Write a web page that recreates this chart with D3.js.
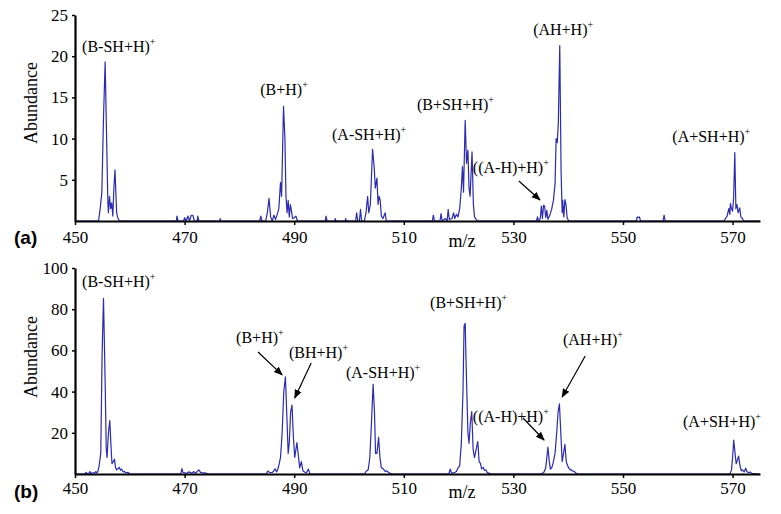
<!DOCTYPE html>
<html><head><meta charset="utf-8">
<script src="https://cdn.jsdelivr.net/npm/d3@7"></script>
<style>
body{margin:0;background:#fff;}
svg{display:block;}
svg text{font-family:"Liberation Serif","Times New Roman",serif;}
svg text.tag{font-family:"Liberation Sans",Arial,sans-serif;font-weight:bold;}
</style></head>
<body><svg id="c" width="781" height="514"></svg>
<script>
// ---------- DATA ----------
const xTicks = [450, 470, 490, 510, 530, 550, 570];
const yTicksA = [5, 10, 15, 20, 25];
const yTicksB = [20, 40, 60, 80, 100];

const mzA = [450.0,454.3,454.6,454.9,455.2,455.5,455.8,456.0,456.1,456.3,456.5,456.7,456.9,457.1,457.3,457.6,457.8,458.1,
468.5,468.6,468.8,469.8,470.0,470.3,470.6,470.9,471.2,471.5,471.8,472.3,472.4,472.6,476.4,476.5,476.6,
483.7,483.9,484.1,484.8,485.1,485.4,485.7,486.0,486.3,486.6,486.9,487.2,487.5,487.7,488.05,488.3,488.5,488.7,488.9,489.1,489.3,489.5,489.7,490.0,490.3,490.6,
495.7,495.8,496.0,497.4,497.5,497.6,499.3,499.4,499.5,501.2,501.4,501.6,501.9,502.1,502.3,502.8,503.1,503.4,503.6,503.9,504.3,504.6,504.8,505.1,505.3,505.5,505.7,505.9,506.2,506.6,506.8,
515.2,515.4,515.6,516.6,516.8,517.0,517.6,517.9,518.1,518.3,518.8,519.1,519.3,519.6,519.9,520.2,520.5,520.7,520.9,521.2,521.45,521.7,521.9,522.1,522.45,522.7,522.9,523.2,523.5,
534.2,534.4,534.6,534.9,535.1,535.3,535.5,535.7,535.9,536.1,536.3,536.7,537.0,537.3,537.6,537.8,538.0,538.2,538.46,538.7,538.9,539.0,539.2,539.4,539.6,539.8,540.1,
552.4,552.6,552.8,553.0,553.2,557.3,557.5,557.7,
568.4,569.0,569.3,569.5,569.6,569.8,570.0,570.2,570.4,570.6,570.8,571.0,571.3,571.5,571.8,572.0,575.0];
const abA = [0,0,1.5,3.5,12.5,19.3,9,2.2,1.0,3.0,1.5,2.2,0.6,4.0,6.2,1.0,0.4,0,
0,0.6,0,0,0.4,0,0.6,0,0.7,0.7,0,0,0.6,0,0,0.3,0,
0,0.6,0,0,1.0,2.75,0.5,0,0.7,0.2,0.8,1.5,4.7,3.0,13.9,10.2,3,1.0,2.5,0.5,2.0,1.2,0.3,0.4,0.6,0,
0,0.6,0,0,0.3,0,0,0.3,0,0,1.0,0,0,1.4,0,0,1.0,3.0,1.0,2.0,8.7,6.5,4.0,5.2,2.0,3.0,2.5,0.6,0.3,1.0,0,
0,0.7,0,0,0.9,0,0.3,0,1.4,0.2,0.3,1.0,0.3,0.8,0.5,1.5,4.0,6.6,3.5,12.2,7.0,8.6,4.0,3.0,8.4,2.0,0.5,0.2,0,
0,0.5,0,0.3,1.8,0.3,1.9,1.8,0.4,1.3,0.2,0.8,1.5,2.5,4.5,10.0,9.5,12,21.3,6,1.0,2.5,0.5,2.6,2.0,0.4,0,
0,0.5,0.4,0.5,0,0,0.7,0,
0,0.6,1.5,0.8,2.1,1.5,1.2,3,8.3,1.5,2.0,1.0,1.6,0.5,0.3,0,0];

const mzB = [450.0,451.8,452.0,452.2,452.6,452.7,452.9,453.3,453.6,453.8,454.0,454.2,454.4,454.7,454.95,455.2,455.5,455.7,455.85,456.1,456.35,456.6,456.75,457.0,457.2,457.4,457.6,457.9,458.1,458.3,458.5,458.8,459.0,459.3,459.7,460.0,
469.3,469.5,469.7,470.0,470.4,470.7,471.0,471.3,471.7,472.0,472.4,472.6,472.9,473.3,473.7,474.0,474.3,
484.9,485.2,485.5,485.9,486.2,486.5,486.8,487.1,487.5,487.8,488.1,488.4,488.7,488.9,489.1,489.35,489.6,489.85,490.1,490.5,490.8,491.0,491.3,491.6,491.9,492.2,492.6,492.8,493.1,
502.8,503.2,503.5,503.8,504.1,504.4,504.65,504.85,505.1,505.4,505.65,505.9,506.3,506.6,506.9,507.2,507.5,507.8,
518.2,518.5,518.7,519.1,519.6,519.9,520.2,520.5,520.8,521.0,521.2,521.45,521.7,521.9,522.15,522.4,522.65,522.9,523.2,523.5,523.75,524.0,524.2,524.5,524.7,525.0,525.2,525.6,525.9,
534.8,535.3,535.6,535.9,536.1,536.3,536.55,536.75,537.0,537.3,537.6,537.9,538.15,538.4,538.65,538.9,539.15,539.4,539.65,539.9,540.2,540.5,540.8,541.1,541.4,541.7,
569.5,569.8,570.0,570.2,570.45,570.65,570.9,571.1,571.35,571.6,571.8,572.1,572.4,572.6,572.9,573.2,573.5,575.0];
const abB = [0,0,0.8,0.2,0.5,1.2,0.3,0.6,0.4,1.2,0.5,1.5,4,10,58.7,85.3,45,12,8,20,25.9,12,5,6,7.2,3,2,2.8,3.2,1.8,2.4,1.0,1.2,0.6,0.8,0,
0,2.6,0.8,0.6,0.3,1.0,0.8,0.4,1.2,0.3,1.5,2.0,0.8,0.5,0.6,0.3,0,
0,1.5,0.8,0.6,1.2,2.5,1.0,3,8,20,40,47.2,25,10,15,30,33.5,18,8,15.2,8,3,6,1.5,1.0,0.5,2.4,0.4,0,
0,1.5,2,8,25,43.5,30,10,10,17.8,8,3,2.4,1.2,1.5,0.8,0.3,0,
0,2.4,0.4,0.5,1.2,3,4,15,40,72,73.1,45,20,15,25,30.3,12,8,12,15.7,6,5,2.5,3.2,1.8,2,0.8,0.3,0,
0,0.3,1.0,3,8,13,6,2.4,3,6,10,20,30,34,20,6,10,14.4,6,4,2.5,2,1.5,1.2,0.5,0,
0,2,8,16.5,10,5,7,8.7,4,1.5,2.0,1.0,2.8,1.2,0.6,1.0,0.3,0];

// annotations: [text, mz, abundance]
const annA = [["(B-SH+H)",451.3,20.5],["(B+H)",483.8,15.3],["(A-SH+H)",496.9,9.8],["(B+SH+H)",512.4,13.5],
  ["((A-H)+H)",522.6,5.8],["(AH+H)",533.6,22.6],["(A+SH+H)",559.0,9.6]];
const arrA = [[531.0,4.85,534.85,2.55]];
const annB = [["(B-SH+H)",451.3,90.8],["(B+H)",479.4,63.6],["(BH+H)",489.05,56.3],["(A-SH+H)",499.45,46.6],
  ["(B+SH+H)",514.8,80.6],["((A-H)+H)",522.6,25.2],["(AH+H)",539.05,62.6],["(A+SH+H)",560.95,22.8]];
const arrB = [[483.4,59.2,487.8,48.1],[493.1,53.9,490.1,36.9],[531.75,27.2,535.6,16.5],[543.1,57.3,538.9,37.4]];

// ---------- DRAW ----------
const svg = d3.select("#c");
const blue = "#2a2ab4";

svg.append("defs").append("marker").attr("id","ah").attr("viewBox","0 0 10 10")
  .attr("refX",9).attr("refY",5).attr("markerWidth",9).attr("markerHeight",9)
  .attr("markerUnits","userSpaceOnUse").attr("orient","auto")
  .append("path").attr("d","M0,1L10,5L0,9Z").attr("fill","#000");

function panel(opt){
  const x = d3.scaleLinear().domain([450,575]).range([75,760]);
  const y = d3.scaleLinear().domain([0,opt.ymax]).range([opt.y0,opt.ytop]);
  const g = svg.append("g");
  const pts = opt.mz.map((m,i)=>[m,opt.ab[i]]);
  g.append("path").datum(pts)
    .attr("d", d3.line().x(d=>x(d[0])).y(d=>y(d[1])))
    .attr("fill","none").attr("stroke",blue).attr("stroke-width",1.2).attr("stroke-linejoin","round");
  const xa = g.append("g").attr("transform",`translate(0,${opt.y0})`)
    .call(d3.axisBottom(x).tickValues(xTicks).tickSize(4).tickSizeOuter(0).tickPadding(opt.xpad));
  xa.attr("font-family",null);
  xa.select(".domain").attr("stroke","#000").attr("stroke-width",2);
  xa.selectAll(".tick line").attr("stroke","#000").attr("stroke-width",1.5);
  xa.selectAll("text").attr("font-size",17).attr("fill","#000");
  const ya = g.append("g").attr("transform","translate(75,0)")
    .call(d3.axisLeft(y).tickValues(opt.yticks).tickSize(3).tickSizeOuter(0).tickPadding(4));
  ya.attr("font-family",null);
  ya.select(".domain").attr("stroke","#000").attr("stroke-width",2.2);
  ya.selectAll(".tick line").attr("stroke","#000").attr("stroke-width",1.5);
  ya.selectAll("text").attr("font-size",17).attr("fill","#000");
  g.append("text").attr("transform",`translate(37,${opt.ymid}) rotate(-90)`)
    .attr("text-anchor","middle").attr("font-size",18).text("Abundance");
  g.append("text").attr("x",462).attr("y",opt.mzy).attr("text-anchor","middle")
    .attr("font-size",18).text("m/z");
  g.append("text").attr("class","tag").attr("x",14).attr("y",opt.tagy)
    .attr("font-size",19).text(opt.tag);
  opt.ann.forEach(a=>{
    const t = g.append("text").attr("x",x(a[1])).attr("y",y(a[2]))
      .attr("font-size",16).attr("fill","#000");
    t.append("tspan").text(a[0]);
    t.append("tspan").attr("dy",-7).attr("font-size",10).text("+");
  });
  opt.arr.forEach(a=>{
    g.append("line").attr("x1",x(a[0])).attr("y1",y(a[1])).attr("x2",x(a[2])).attr("y2",y(a[3]))
      .attr("stroke","#000").attr("stroke-width",1.2).attr("marker-end","url(#ah)");
  });
}

panel({mz:mzA, ab:abA, ymax:25, y0:221, ytop:15, yticks:yTicksA, ymid:103, mzy:247, tag:"(a)", tagy:244,
  ann:annA, arr:arrA, xpad:6});
panel({mz:mzB, ab:abB, ymax:100, y0:474, ytop:268, yticks:yTicksB, ymid:357, mzy:498, tag:"(b)", tagy:498,
  ann:annB, arr:arrB, xpad:4});
</script></body></html>
